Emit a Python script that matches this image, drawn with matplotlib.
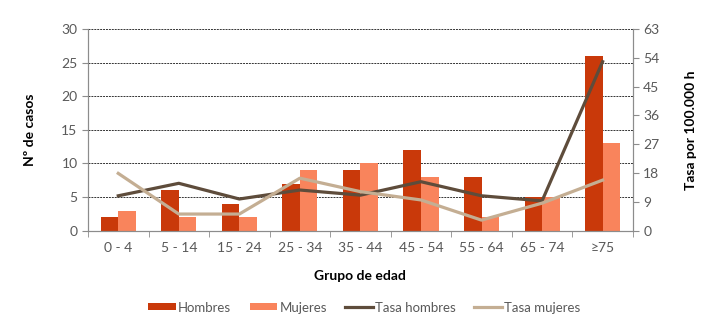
import numpy as np
import matplotlib.pyplot as plt

plt.rcParams['font.family'] = ['Lato', 'DejaVu Sans']

grupos = ['0 - 4', '5 - 14', '15 - 24', '25 - 34', '35 - 44',
          '45 - 54', '55 - 64', '65 - 74', '≥75']
hombres = [2, 6, 4, 7, 9, 12, 8, 5, 26]
mujeres = [3, 2, 2, 9, 10, 8, 2, 5, 13]
tasa_hombres = [10.9, 14.8, 9.9, 12.7, 11.1, 15.3, 10.9, 9.3, 52.8]
tasa_mujeres = [17.9, 5.2, 5.2, 16.4, 12.2, 9.6, 3.3, 8.6, 15.8]

c_h = '#C9390A'
c_m = '#F9845C'
c_th = '#5E4C3B'
c_tm = '#C4AE93'
gris = '#8C8C8C'
texto = '#595959'

fig = plt.figure(figsize=(7.2, 3.29), dpi=100)
ax = fig.add_axes([0.1222, 0.2988, 0.7568, 0.6131])

x = np.arange(len(grupos))
w = 0.29
ax.bar(x - w / 2, hombres, w, color=c_h, label='Hombres', zorder=2)
ax.bar(x + w / 2, mujeres, w, color=c_m, label='Mujeres', zorder=2)

ax.set_ylim(0, 30)
ax.set_yticks(range(0, 31, 5))
ax.set_xlim(-0.5, len(grupos) - 0.5)
ax.set_xticks(x)
ax.set_xticklabels(grupos)
ax.set_xticks(np.arange(-0.5, len(grupos)), minor=True)
ax.tick_params(axis='x', which='major', length=0, pad=8, labelsize=10, colors=texto)
ax.tick_params(axis='x', which='minor', length=4, color=gris)
ax.tick_params(axis='y', length=4, color=gris, labelsize=10, labelcolor=texto)
ax.yaxis.grid(True, linestyle=(0, (2, 1)), color='#333333', linewidth=0.7, zorder=0)
ax.set_axisbelow(True)

ax.spines['top'].set_visible(False)
for s in ['left', 'bottom', 'right']:
    ax.spines[s].set_color(gris)

ax.set_ylabel('Nº de casos', fontsize=10, fontweight='bold', color='black', labelpad=18)
ax.set_xlabel('Grupo de edad', fontsize=10, fontweight='bold', color='black', labelpad=12)

ax2 = ax.twinx()
ax2.plot(x, tasa_hombres, color=c_th, linewidth=2.3, label='Tasa hombres')
ax2.plot(x, tasa_mujeres, color=c_tm, linewidth=2.3, label='Tasa mujeres')
ax2.set_ylim(0, 63)
ax2.set_yticks(range(0, 64, 9))
ax2.tick_params(axis='y', length=4, color=gris, labelsize=10, labelcolor=texto)
ax2.spines['top'].set_visible(False)
for s in ['left', 'bottom', 'right']:
    ax2.spines[s].set_color(gris)
ax2.set_ylabel('Tasa por 100.000 h', fontsize=10, fontweight='bold', color='black', labelpad=18)

h1, l1 = ax.get_legend_handles_labels()
h2, l2 = ax2.get_legend_handles_labels()
fig.legend(h1 + h2, l1 + l2, loc='center', bbox_to_anchor=(0.506, 0.065), ncol=4,
           frameon=False, fontsize=9.5, handlelength=2.1, handleheight=0.45,
           handletextpad=0.15, columnspacing=1.4, labelcolor=texto)

fig.savefig('out.png', dpi=100)
